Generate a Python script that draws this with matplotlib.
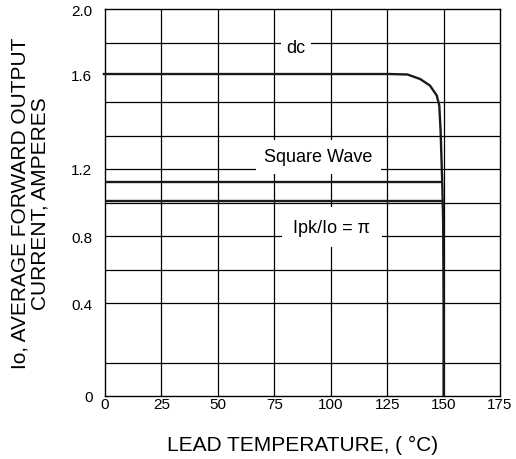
import numpy as np
import matplotlib
matplotlib.use('Agg')
import matplotlib.pyplot as plt
from matplotlib.ticker import FixedLocator

plt.rcParams['font.family'] = ['Liberation Sans', 'DejaVu Sans']

# data
dc_temp = [-1, 126, 134, 139.6, 144, 147, 148.1, 148.7, 149.4, 149.8, 150, 150]
dc_current = [1.6, 1.6, 1.598, 1.579, 1.551, 1.509, 1.467, 1.356, 1.122, 0.9, 0.4, 0]
square_temp = [0, 149.3]
square_current = [1.122, 1.122]
pi_temp = [0, 149.3]
pi_current = [1.01, 1.01]

x_ticks = [0, 25, 50, 75, 100, 125, 150, 175]
y_ticks = [0, 0.4, 0.8, 1.2, 1.6, 2.0]
y_tick_labels = ['0', '0.4', '0.8', '1.2', '1.6', '2.0']

# the printed y axis is not evenly spaced, so map values piecewise
y_knot_pos = [0, 0.240, 0.413, 0.587, 0.832, 1.0]
y_grid = [0.14, 0.4, 0.6, 0.8, 1.0, 1.2, 1.34, 1.48, 1.79]


def fwd(v):
    return np.interp(v, y_ticks, y_knot_pos)


def inv(p):
    return np.interp(p, y_knot_pos, y_ticks)


fig = plt.figure(figsize=(5.16, 4.6), dpi=100)
ax = fig.add_axes([105 / 516, 63 / 460, 395 / 516, 387 / 460])
ax.set_yscale('function', functions=(fwd, inv))
ax.set_xlim(0, 175)
ax.set_ylim(0, 2.0)

ax.set_xticks(x_ticks)
ax.set_yticks(y_ticks)
ax.set_yticklabels(y_tick_labels)
# grid lines live on minor ticks, some of which sit on major ones
ax.xaxis.remove_overlapping_locs = False
ax.yaxis.remove_overlapping_locs = False
ax.xaxis.set_minor_locator(FixedLocator(x_ticks[1:-1]))
ax.yaxis.set_minor_locator(FixedLocator(y_grid))
ax.tick_params(which='both', length=0, labelsize=11)
ax.tick_params(axis='x', pad=1)
ax.tick_params(axis='y', pad=9)
ax.grid(which='minor', color='black', lw=0.9)
ax.grid(which='major', visible=False)
for s in ax.spines.values():
    s.set_linewidth(1.0)

line_kw = dict(color='#1a1a1a', lw=1.7, solid_capstyle='butt')
ax.plot(dc_temp, dc_current, clip_on=False, zorder=3, **line_kw)
ax.plot(square_temp, square_current, zorder=3, **line_kw)
ax.plot(pi_temp, pi_current, zorder=3, **line_kw)

box = dict(facecolor='white', edgecolor='none')
ax.text(84.6, 1.766, 'dc', fontsize=13, ha='center', va='center',
        bbox=dict(pad=4, **box), zorder=4)
ax.text(94.4, 1.25, 'Square Wave', fontsize=13, ha='center', va='center',
        bbox=dict(pad=6, **box), zorder=4)
ax.text(100.5, 0.854, 'Ipk/Io = \u03c0', fontsize=13, ha='center', va='center',
        bbox=dict(pad=8, **box), zorder=4)

ax.set_xlabel('LEAD TEMPERATURE, ( \u00b0C)', fontsize=15, labelpad=17)
ax.set_ylabel('Io, AVERAGE FORWARD OUTPUT\nCURRENT, AMPERES', fontsize=15,
              labelpad=16, linespacing=1.05)

fig.savefig('out.png', dpi=100)
